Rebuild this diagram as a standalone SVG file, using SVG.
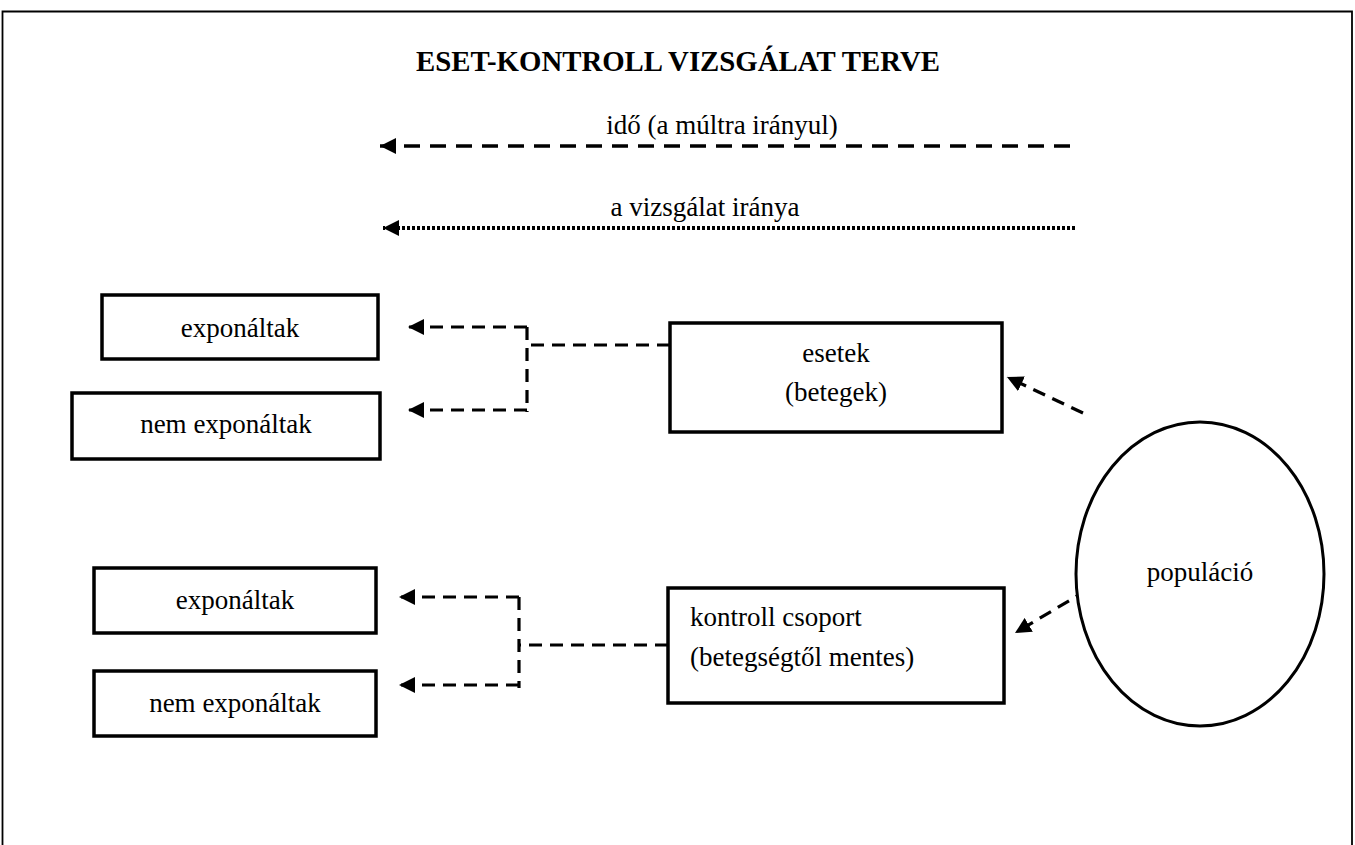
<svg xmlns="http://www.w3.org/2000/svg" width="1355" height="845" viewBox="0 0 1355 845">
<style>
.t{font-family:"Liberation Serif","Times New Roman",serif;font-size:27px;fill:#000}
.title{font-family:"Liberation Serif","Times New Roman",serif;font-size:28.8px;font-weight:bold;fill:#000}
.box{fill:#fff;stroke:#000;stroke-width:3.5}
.dash{fill:none;stroke:#000;stroke-width:3.5;stroke-dasharray:16 10}
.cdash{fill:none;stroke:#000;stroke-width:3.2;stroke-dasharray:13 8}
.dot{fill:none;stroke:#000;stroke-width:4;stroke-dasharray:3 2}
</style>
<defs>
<marker id="ah" markerUnits="userSpaceOnUse" markerWidth="18" markerHeight="16" refX="16" refY="8" orient="auto">
<path d="M0,0 L16,8 L0,16 z" fill="#000"/>
</marker>
</defs>
<rect width="1355" height="845" fill="#fff"/>
<path d="M2.5,845 V11.5 H1352 V845" fill="none" stroke="#000" stroke-width="1.8"/>
<text class="title" x="678" y="71" text-anchor="middle">ESET-KONTROLL VIZSGÁLAT TERVE</text>
<text class="t" x="722" y="134" text-anchor="middle">idő (a múltra irányul)</text>
<text class="t" x="705" y="216" text-anchor="middle">a vizsgálat iránya</text>
<g id="connectors">
<line class="dash" x1="1070" y1="146" x2="380" y2="146" marker-end="url(#ah)"/>
<line class="dot" x1="1075" y1="228" x2="383" y2="228" marker-end="url(#ah)"/>
<path class="cdash" d="M670,345 H527"/>
<path class="cdash" d="M527,327 V412"/>
<line class="cdash" x1="527" y1="327" x2="408" y2="327" marker-end="url(#ah)"/>
<line class="cdash" x1="527" y1="410" x2="408" y2="410" marker-end="url(#ah)"/>
<path class="cdash" d="M668,645 H519"/>
<path class="cdash" d="M519,597 V688"/>
<line class="cdash" x1="519" y1="597" x2="399" y2="597" marker-end="url(#ah)"/>
<line class="cdash" x1="519" y1="685" x2="399" y2="685" marker-end="url(#ah)"/>
<line class="cdash" x1="1083" y1="413" x2="1007" y2="377" marker-end="url(#ah)"/>
<line class="cdash" x1="1087" y1="590" x2="1015" y2="633" marker-end="url(#ah)"/>
</g>
<g id="exp1">
<rect class="box" x="102" y="295" width="276" height="64"/>
<text class="t" x="240" y="337" text-anchor="middle">exponáltak</text>
</g>
<g id="nemexp1">
<rect class="box" x="72" y="393" width="308" height="66"/>
<text class="t" x="226" y="433" text-anchor="middle">nem exponáltak</text>
</g>
<g id="esetek">
<rect class="box" x="670" y="323" width="332" height="109"/>
<text class="t" x="836" y="362" text-anchor="middle">esetek</text>
<text class="t" x="836" y="401" text-anchor="middle">(betegek)</text>
</g>
<g id="populacio">
<ellipse cx="1200" cy="574" rx="124" ry="152" fill="#fff" stroke="#000" stroke-width="3"/>
<text class="t" x="1200" y="581" text-anchor="middle">populáció</text>
</g>
<g id="exp2">
<rect class="box" x="94" y="568" width="282" height="65"/>
<text class="t" x="235" y="609" text-anchor="middle">exponáltak</text>
</g>
<g id="nemexp2">
<rect class="box" x="94" y="671" width="282" height="65"/>
<text class="t" x="235" y="712" text-anchor="middle">nem exponáltak</text>
</g>
<g id="kontroll">
<rect class="box" x="668" y="588" width="336" height="115"/>
<text class="t" x="690" y="626">kontroll csoport</text>
<text class="t" x="690" y="666">(betegségtől mentes)</text>
</g>
</svg>
